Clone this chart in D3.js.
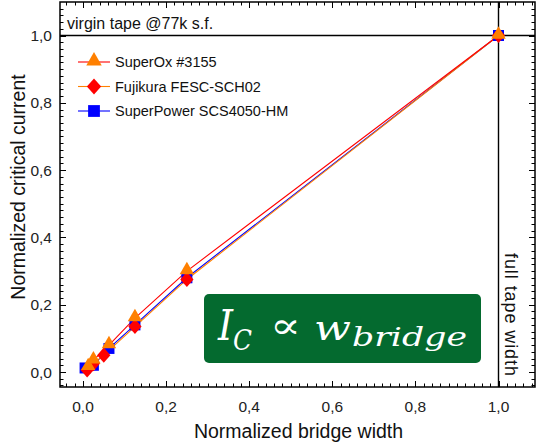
<!DOCTYPE html>
<html>
<head>
<meta charset="utf-8">
<script src="https://cdn.jsdelivr.net/npm/d3@7"></script>
<style>
  html, body { margin: 0; padding: 0; background: #fff; }
  svg { display: block; font-family: "Liberation Sans", Arial, sans-serif; }
</style>
</head>
<body>
<svg id="chart" width="538" height="444"></svg>
<script>
// Normalized bridge width vs. normalized critical current for three tapes
const seriesNames = ["SuperOx #3155", "Fujikura FESC-SCH02", "SuperPower SCS4050-HM"];
const superOxX = [0.0125, 0.025, 0.0625, 0.125, 0.25, 1.0];
const superOxY = [0.015, 0.035, 0.08, 0.16, 0.30, 1.0];
const fujikuraX = [0.01, 0.025, 0.05, 0.125, 0.25, 1.0];
const fujikuraY = [0.006, 0.025, 0.05, 0.135, 0.275, 1.0];
const superPowerX = [0.005, 0.025, 0.0625, 0.125, 0.25, 1.0];
const superPowerY = [0.012, 0.02, 0.07, 0.14, 0.28, 1.0];
const majorTicks = [0, 0.2, 0.4, 0.6, 0.8, 1.0];
const tickLabels = ["0,0", "0,2", "0,4", "0,6", "0,8", "1,0"];
const xTitle = "Normalized bridge width";
const yTitle = "Normalized critical current";
const refLevelText = "virgin tape @77k s.f.";
const fullWidthText = "full tape width";

const svg = d3.select("#chart");

// plot frame
const fLeft = 60, fRight = 535, fTop = 2, fBottom = 387;
const x = d3.scaleLinear().domain([0, 1]).range([83, 498.5]);
const y = d3.scaleLinear().domain([0, 1]).range([372, 35.5]);
const xDom = [x.invert(fLeft), x.invert(fRight)];
const yDom = [y.invert(fBottom), y.invert(fTop)];

const minorX = d3.range(-0.04, 1.081, 0.02).filter(v => v > xDom[0] && v < xDom[1]);
const minorY = d3.range(-0.04, 1.081, 0.02).filter(v => v > yDom[0] && v < yDom[1]);

// ticks (inward on all four sides)
const tk = svg.append("g").attr("stroke", "#000").attr("stroke-width", 1);
const isMajor = v => majorTicks.some(m => Math.abs(m - v) < 1e-6);
minorX.forEach(v => {
  const L = isMajor(v) ? 6 : 3.5;
  const px = Math.round(x(v)) + 0.5;
  tk.append("line").attr("x1", px).attr("x2", px).attr("y1", fBottom).attr("y2", fBottom - L);
  tk.append("line").attr("x1", px).attr("x2", px).attr("y1", fTop).attr("y2", fTop + L);
});
minorY.forEach(v => {
  const L = isMajor(v) ? 6 : 3.5;
  const py = Math.round(y(v)) + 0.5;
  tk.append("line").attr("y1", py).attr("y2", py).attr("x1", fLeft).attr("x2", fLeft + L);
  tk.append("line").attr("y1", py).attr("y2", py).attr("x1", fRight).attr("x2", fRight - L);
});

// frame
svg.append("rect")
  .attr("x", fLeft).attr("y", fTop)
  .attr("width", fRight - fLeft).attr("height", fBottom - fTop)
  .attr("fill", "none").attr("stroke", "#000").attr("stroke-width", 1.5);

// tick labels
svg.append("g").selectAll("text").data(majorTicks).join("text")
  .attr("x", d => x(d)).attr("y", 412)
  .attr("text-anchor", "middle").attr("font-size", 15.5).attr("fill", "#222")
  .text((d, i) => tickLabels[i]);
svg.append("g").selectAll("text").data(majorTicks).join("text")
  .attr("x", 52).attr("y", d => y(d) + 5.5)
  .attr("text-anchor", "end").attr("font-size", 15.5).attr("fill", "#222")
  .text((d, i) => tickLabels[i]);

// axis titles
svg.append("text").attr("x", 298.5).attr("y", 438)
  .attr("text-anchor", "middle").attr("font-size", 19.5).attr("fill", "#111").text(xTitle);
svg.append("text").attr("transform", "translate(25,187) rotate(-90)")
  .attr("text-anchor", "middle").attr("font-size", 19.5).attr("fill", "#111").text(yTitle);

// reference lines at full width / virgin tape level
svg.append("line").attr("x1", fLeft).attr("x2", fRight).attr("y1", y(1)).attr("y2", y(1))
  .attr("stroke", "#000").attr("stroke-width", 1.4);
svg.append("line").attr("x1", x(1)).attr("x2", x(1)).attr("y1", fTop).attr("y2", fBottom)
  .attr("stroke", "#000").attr("stroke-width", 1.4);
svg.append("text").attr("x", 67).attr("y", 29).attr("font-size", 16).attr("fill", "#111").text(refLevelText);
svg.append("text").attr("transform", `translate(${x(1) + 6},253) rotate(90)`)
  .attr("font-size", 18).attr("fill", "#111")
  .attr("textLength", 123).attr("lengthAdjust", "spacing").text(fullWidthText);

// proportionality box
const box = svg.append("g");
box.append("rect").attr("x", 204).attr("y", 294).attr("width", 277).attr("height", 69)
  .attr("rx", 5).attr("fill", "#046a2f");
const serif = "'DejaVu Serif', 'Liberation Serif', serif";
box.append("text").attr("x", 218).attr("y", 340).attr("font-family", serif)
  .attr("font-style", "italic").attr("font-size", 42).attr("fill", "#fff")
  .attr("textLength", 15).attr("lengthAdjust", "spacingAndGlyphs").text("I");
box.append("text").attr("x", 233).attr("y", 350).attr("font-family", serif)
  .attr("font-style", "italic").attr("font-size", 27).attr("fill", "#fff")
  .attr("textLength", 19).attr("lengthAdjust", "spacingAndGlyphs").text("C");
box.append("text").attr("x", 270).attr("y", 338).attr("font-family", serif)
  .attr("font-size", 36).attr("fill", "#fff")
  .attr("textLength", 31).attr("lengthAdjust", "spacingAndGlyphs").text("∝");
box.append("text").attr("x", 314).attr("y", 340).attr("font-family", serif)
  .attr("font-style", "italic").attr("font-size", 36).attr("fill", "#fff")
  .attr("textLength", 37).attr("lengthAdjust", "spacingAndGlyphs").text("w");
box.append("text").attr("x", 352).attr("y", 346).attr("font-family", serif)
  .attr("font-style", "italic").attr("font-size", 26).attr("fill", "#fff")
  .attr("textLength", 115).attr("lengthAdjust", "spacingAndGlyphs").text("bridge");

// marker shapes: wide diamond (rhombus) plus the d3 square and triangle
const rhombus = {
  draw(ctx, size) {
    const h = Math.sqrt(size) * 0.72, w = h * 0.88;
    ctx.moveTo(0, -h); ctx.lineTo(w, 0); ctx.lineTo(0, h); ctx.lineTo(-w, 0); ctx.closePath();
  }
};

// series (drawn back to front)
const series = [
  { name: seriesNames[2], xs: superPowerX, ys: superPowerY, line: "#0000ff", fill: "#0000ff", sym: d3.symbolSquare, size: 121, dy: 0 },
  { name: seriesNames[1], xs: fujikuraX, ys: fujikuraY, line: "#ff8000", fill: "#ff0000", sym: rhombus, size: 110, dy: 0 },
  { name: seriesNames[0], xs: superOxX, ys: superOxY, line: "#ff0000", fill: "#ff8000", sym: d3.symbolTriangle, size: 90, dy: -1 }
];
const lineGen = d3.line().x(d => x(d[0])).y(d => y(d[1]));
series.forEach(s => {
  const pts = s.xs.map((v, i) => [v, s.ys[i]]);
  svg.append("path").datum(pts).attr("d", lineGen)
    .attr("fill", "none").attr("stroke", s.line).attr("stroke-width", 1.1);
});
series.forEach(s => {
  const pts = s.xs.map((v, i) => [v, s.ys[i]]);
  const sym = d3.symbol().type(s.sym).size(s.size);
  svg.append("g").selectAll("path").data(pts).join("path")
    .attr("transform", d => `translate(${x(d[0])},${y(d[1]) + s.dy})`)
    .attr("d", sym).attr("fill", s.fill);
});

// legend
const legend = svg.append("g");
const legendOrder = [series[2], series[1], series[0]];
legendOrder.forEach((s, i) => {
  const ly = 62 + i * 24.5;
  legend.append("line").attr("x1", 78).attr("x2", 110).attr("y1", ly).attr("y2", ly)
    .attr("stroke", s.line).attr("stroke-width", 1.1);
  legend.append("path").attr("transform", `translate(94,${ly + s.dy})`)
    .attr("d", d3.symbol().type(s.sym).size(s.size * 1.15)).attr("fill", s.fill);
  legend.append("text").attr("x", 115).attr("y", ly + 5).attr("font-size", 14.5)
    .attr("fill", "#111").text(s.name);
});
</script>
</body>
</html>
